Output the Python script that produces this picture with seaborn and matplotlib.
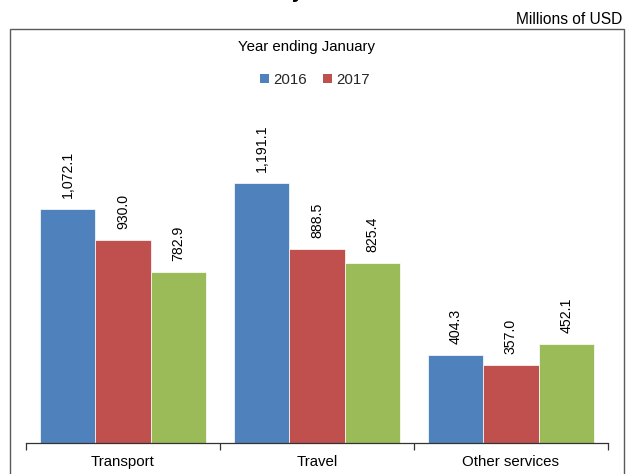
import matplotlib
matplotlib.use("Agg")
import matplotlib.pyplot as plt
from matplotlib.patches import Rectangle, Patch
import pandas as pd
import seaborn as sns

categories = ["Transport", "Travel", "Other services"]
years = ["2016", "2017", "2018"]
values_2016 = [1072.1, 1191.1, 404.3]
values_2017 = [930.0, 888.5, 357.0]
values_2018 = [782.9, 825.4, 452.1]
legend_years = ["2016", "2017"]
colors = ["#4F81BD", "#C0504D", "#9BBB59"]
title_text = "Trade in Services by Sector"

rows = []
for year, vals in zip(years, [values_2016, values_2017, values_2018]):
    for cat, v in zip(categories, vals):
        rows.append({"category": cat, "year": year, "value": v})
df = pd.DataFrame(rows)

sns.set_theme(style="white")
plt.rcParams["font.family"] = ["Liberation Sans", "DejaVu Sans"]
plt.rcParams["font.size"] = 10

W, H = 631, 474
fig = plt.figure(figsize=(W / 100, H / 100), dpi=100)
ax = fig.add_axes([26 / W, 31 / H, 582 / W, 404 / H])

sns.barplot(data=df, x="category", y="value", hue="year", order=categories,
            hue_order=years, palette=colors, width=0.856, gap=0,
            saturation=1, edgecolor="white", linewidth=0.5,
            legend=False, ax=ax)

ax.set_xlim(-0.5, 2.5)
ax.set_ylim(0, 1850)
ax.set_xlabel("")
ax.set_ylabel("")
ax.set_yticks([])
for side in ["left", "right", "top"]:
    ax.spines[side].set_visible(False)
ax.spines["bottom"].set_color("#333333")
ax.spines["bottom"].set_linewidth(0.9)
ax.set_xticks([-0.5, 0.5, 1.5, 2.5], minor=True)
ax.tick_params(axis="x", which="minor", length=5, width=0.9, color="#333333",
               direction="out", bottom=True)
ax.tick_params(axis="x", which="major", length=0, pad=8.5, labelsize=10.8,
               labelcolor="black")
ax.patch.set_alpha(0)

for container in ax.containers:
    for bar in container:
        h = bar.get_height()
        ax.annotate(f"{h:,.1f}", (bar.get_x() + bar.get_width() / 2, h),
                    xytext=(0, 8), textcoords="offset points",
                    rotation=90, ha="center", va="bottom", fontsize=10.2,
                    color="black")

# outer chart frame (its bottom edge runs below the canvas)
fig.patches.append(Rectangle((10 / W, -0.05), 614 / W, 1.05 - 29 / H,
                             transform=fig.transFigure, fill=False,
                             edgecolor="#5a5a5a", linewidth=1.0, zorder=0))

fig.text(622 / W, 1 - 19 / H, "Millions of USD", ha="right", va="center",
         fontsize=11.2, color="black")
fig.text(307 / W, 1 - 47 / H, "Year ending January", ha="center",
         va="center", fontsize=10.8, color="black")

# chart title sits above the canvas; only the descender of "y" reaches in
renderer = fig.canvas.get_renderer()
title_kw = dict(fontsize=15, fontweight="bold", va="baseline", ha="left")
probe = fig.text(0, 0, title_text[:title_text.index("by") + 1], **title_kw)
prefix_w = probe.get_window_extent(renderer).width
probe.remove()
fig.text((292 - prefix_w) / W, 1 + 1.5 / H, title_text, color="black",
         **title_kw)

handles = [Patch(facecolor=c, edgecolor="none") for c in colors[:2]]
fig.legend(handles, legend_years, loc="center", ncol=2, frameon=False,
           bbox_to_anchor=(315 / W, 1 - 80 / H), fontsize=10.8,
           handlelength=0.6, handleheight=0.6, handletextpad=0.25,
           columnspacing=1.1)

fig.savefig("out.png", dpi=100)
